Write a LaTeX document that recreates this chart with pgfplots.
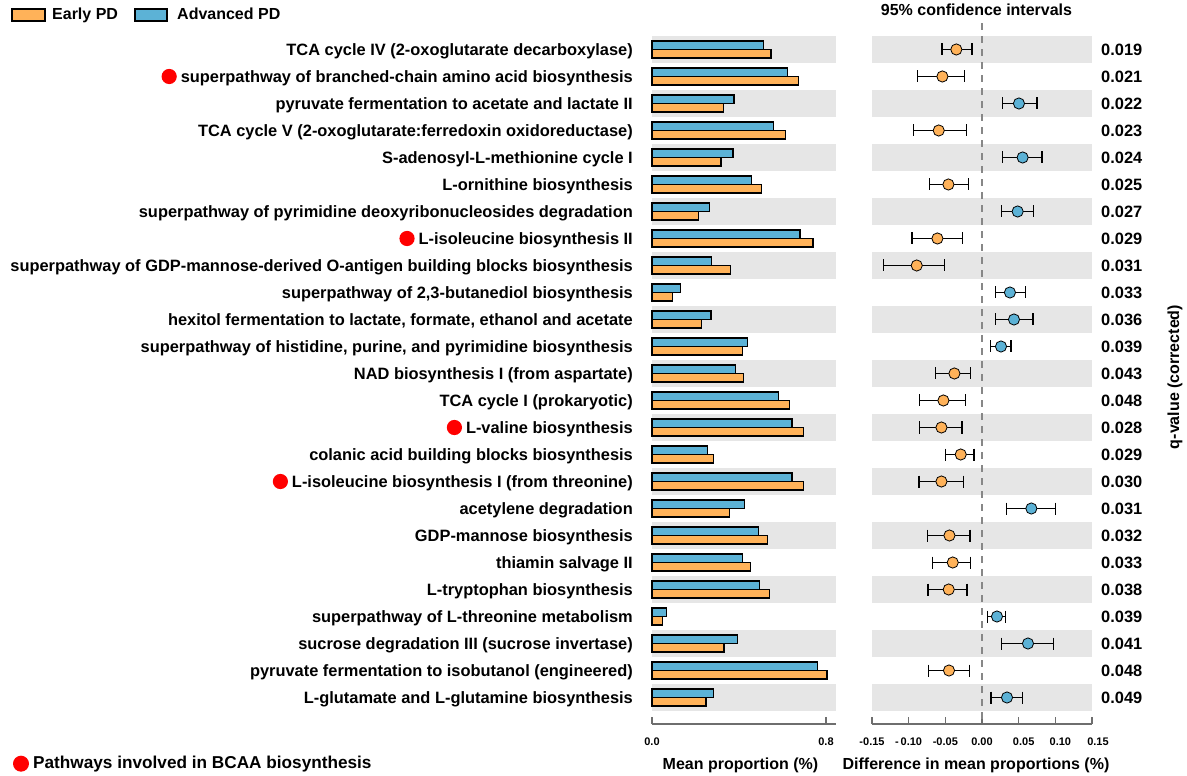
\documentclass[border=0pt]{standalone}
\usepackage{fontspec}
\setmainfont{Liberation Sans}
\usepackage{pgfplots}
\pgfplotsset{compat=1.18}
\usepackage{pgfplotstable}

\definecolor{earlyc}{RGB}{255,178,89}
\definecolor{advc}{RGB}{92,178,214}
\definecolor{bandgray}{RGB}{230,230,230}
\definecolor{axisgray}{RGB}{110,110,110}
\definecolor{zerogray}{RGB}{135,135,135}

\newcommand\lab{\fontsize{16.4}{19}\selectfont\bfseries}
\newcommand\ttl{\fontsize{16}{19}\selectfont\bfseries}
\newcommand\tck{\fontsize{11}{12}\selectfont\bfseries}

% mean proportions (%), pos 25 = first pathway at the top
\pgfplotstableread{
pos adv early
25 0.512 0.547
24 0.622 0.674
23 0.377 0.328
22 0.559 0.615
21 0.372 0.317
20 0.457 0.504
19 0.264 0.213
18 0.680 0.740
17 0.274 0.362
16 0.132 0.093
15 0.271 0.228
14 0.440 0.415
13 0.385 0.421
12 0.581 0.633
11 0.644 0.697
10 0.256 0.284
9  0.644 0.697
8  0.425 0.355
7  0.489 0.530
6  0.415 0.452
5  0.493 0.541
4  0.067 0.047
3  0.392 0.331
2  0.762 0.805
1  0.282 0.248
}\barsdata

% difference in mean proportions with 95% CI, higher in early PD
\pgfplotstableread{
pos d lo hi
25 -0.0350 -0.0545 -0.0136
24 -0.0540 -0.0880 -0.0236
22 -0.0590 -0.0935 -0.0213
20 -0.0458 -0.0717 -0.0185
18 -0.0608 -0.0954 -0.0267
17 -0.0890 -0.1340 -0.0508
13 -0.0376 -0.0635 -0.0154
12 -0.0526 -0.0853 -0.0222
11 -0.0553 -0.0853 -0.0272
10 -0.0290 -0.0494 -0.0109
9  -0.0553 -0.0858 -0.0253
7  -0.0444 -0.0744 -0.0163
6  -0.0399 -0.0676 -0.0158
5  -0.0454 -0.0736 -0.0204
2  -0.0450 -0.0726 -0.0168
}\earlyci

% higher in advanced PD
\pgfplotstableread{
pos d lo hi
23 0.0504 0.0278 0.0749
21 0.0554 0.0278 0.0817
19 0.0486 0.0264 0.0700
16 0.0381 0.0187 0.0590
15 0.0436 0.0187 0.0695
14 0.0259 0.0119 0.0395
8  0.0673 0.0332 0.1004
4  0.0204 0.0074 0.0319
3  0.0627 0.0264 0.0973
1  0.0341 0.0123 0.0554
}\advci

\pgfplotsset{
  rowaxis/.style={
    anchor=south west, scale only axis, height=688pt,
    ymin=0.019, ymax=25.5, clip=false,
    axis x line*=bottom,
    y axis line style={draw=none},
    x axis line style={draw=axisgray, line width=1.3pt},
    tick align=inside, major tick length=6.5pt,
    xtick style={draw=axisgray, line width=1.3pt},
    ytick={25,24,...,1}, ytick style={draw=none},
    xticklabel style={font=\tck, anchor=base, inner sep=0pt, yshift=-22pt},
  },
  % interval line, its two end caps, then the point estimate
  ciint/.style={black, line width=1.4pt, quiver={u=\thisrow{hi}-\thisrow{lo}, v=0}},
  cicap/.style={only marks, mark=|, mark size=6pt, mark options={black, line width=1.4pt}},
  cipt/.style={only marks, mark=*, mark size=5.6pt, mark options={fill=#1, draw=black, line width=0.8pt}},
}

\newcommand\bcaa{\tikz[baseline={(0,-5.8pt)}]\fill[red] (0,0) circle (7.6pt);\hspace{4pt}}

\begin{document}
\begin{tikzpicture}[x=1pt,y=1pt]
\useasboundingbox (0,0) rectangle (1187,776);

% ---------- mean proportions ----------
\begin{axis}[rowaxis,
  at={(652pt,52pt)}, width=184pt,
  xmin=0, xmax=0.846,
  axis y line*=left,
  xtick={0,0.8}, xticklabels={0.0,0.8},
  yticklabel style={font=\lab, anchor=base east, inner sep=0pt, xshift=-19pt, yshift=-5.8pt},
  yticklabels={
    TCA cycle IV (2-oxoglutarate decarboxylase),
    \bcaa superpathway of branched-chain amino acid biosynthesis,
    pyruvate fermentation to acetate and lactate II,
    TCA cycle V (2-oxoglutarate:ferredoxin oxidoreductase),
    S-adenosyl-L-methionine cycle I,
    L-ornithine biosynthesis\hspace{5pt},
    superpathway of pyrimidine deoxyribonucleosides degradation,
    \bcaa L-isoleucine biosynthesis II,
    superpathway of GDP-mannose-derived O-antigen building blocks biosynthesis,
    {superpathway of 2,3-butanediol biosynthesis},
    {hexitol fermentation to lactate, formate, ethanol and acetate},
    {superpathway of histidine, purine, and pyrimidine biosynthesis},
    NAD biosynthesis I (from aspartate),
    TCA cycle I (prokaryotic),
    \bcaa L-valine biosynthesis,
    colanic acid building blocks biosynthesis,
    \bcaa L-isoleucine biosynthesis I (from threonine),
    acetylene degradation,
    GDP-mannose biosynthesis,
    thiamin salvage II,
    L-tryptophan biosynthesis,
    superpathway of L-threonine metabolism,
    sucrose degradation III (sucrose invertase),
    pyruvate fermentation to isobutanol (engineered),
    L-glutamate and L-glutamine biosynthesis},
]
\pgfplotsinvokeforeach{1,3,...,25}{
  \fill[bandgray] (axis cs:0,{#1-0.5}) rectangle (axis cs:0.846,{#1+0.5});
}
\addplot[xbar, bar width=0.31, bar shift=0.155, fill=advc, draw=black, line width=1.3pt]
  table[x=adv, y=pos] {\barsdata};
\addplot[xbar, bar width=0.31, bar shift=-0.155, fill=earlyc, draw=black, line width=1.3pt]
  table[x=early, y=pos] {\barsdata};
\end{axis}

% ---------- differences with confidence intervals ----------
\begin{axis}[rowaxis,
  at={(872pt,52pt)}, width=220pt,
  xmin=-0.15, xmax=0.15,
  axis y line*=right,
  xtick={-0.15,-0.1,-0.05,0,0.05,0.1,0.15},
  xticklabels={-0.15,-\,0.10,-0.05,0.00,\hspace*{10pt}0.05,\hspace*{10pt}0.10,\hspace*{12pt}0.15},
  yticklabel style={font=\lab, anchor=base west, inner sep=0pt, xshift=9pt, yshift=-5.8pt},
  yticklabels={0.019,0.021,0.022,0.023,0.024,0.025,0.027,0.029,0.031,0.033,
    0.036,0.039,0.043,0.048,0.028,0.029,0.030,0.031,0.032,0.033,0.038,0.039,
    0.041,0.048,0.049},
]
\pgfplotsinvokeforeach{1,3,...,25}{
  \fill[bandgray] (axis cs:-0.15,{#1-0.5}) rectangle (axis cs:0.15,{#1+0.5});
}
\draw[zerogray, line width=2.2pt, dash pattern=on 7pt off 6pt]
  (axis cs:0,25.98) -- (axis cs:0,0.019);
\addplot[ciint] table[x=lo, y=pos] {\earlyci};
\addplot[cicap] table[x=lo, y=pos] {\earlyci};
\addplot[cicap] table[x=hi, y=pos] {\earlyci};
\addplot[cipt=earlyc] table[x=d, y=pos] {\earlyci};
\addplot[ciint] table[x=lo, y=pos] {\advci};
\addplot[cicap] table[x=lo, y=pos] {\advci};
\addplot[cicap] table[x=hi, y=pos] {\advci};
\addplot[cipt=advc] table[x=d, y=pos] {\advci};
\end{axis}

% ---------- titles, axis labels and keys ----------
\node[font=\ttl, anchor=base, inner sep=0pt] at (976.5,760.5) {95\% confidence intervals};
\node[font=\ttl, anchor=base, inner sep=0pt] at (740.5,6) {Mean proportion (\%)};
\node[font=\ttl, anchor=base, inner sep=0pt] at (976,6) {Difference in mean proportions (\%)};
\node[font=\ttl, rotate=90, inner sep=0pt] at (1175,399) {q-value (corrected)};

\draw[fill=earlyc, line width=1.3pt] (12,755) rectangle (45,767);
\node[font=\ttl, anchor=base west, inner sep=0pt] at (52,756.5) {Early PD};
\draw[fill=advc, line width=1.3pt] (135,755) rectangle (167,767);
\node[font=\ttl, anchor=base west, inner sep=0pt] at (177,756.5) {Advanced PD};

\fill[red] (21,12.3) circle (8);
\node[font=\fontsize{17.2}{20}\selectfont\bfseries, anchor=base west, inner sep=0pt] at (33,7.7) {Pathways involved in BCAA biosynthesis};
\end{tikzpicture}
\end{document}
